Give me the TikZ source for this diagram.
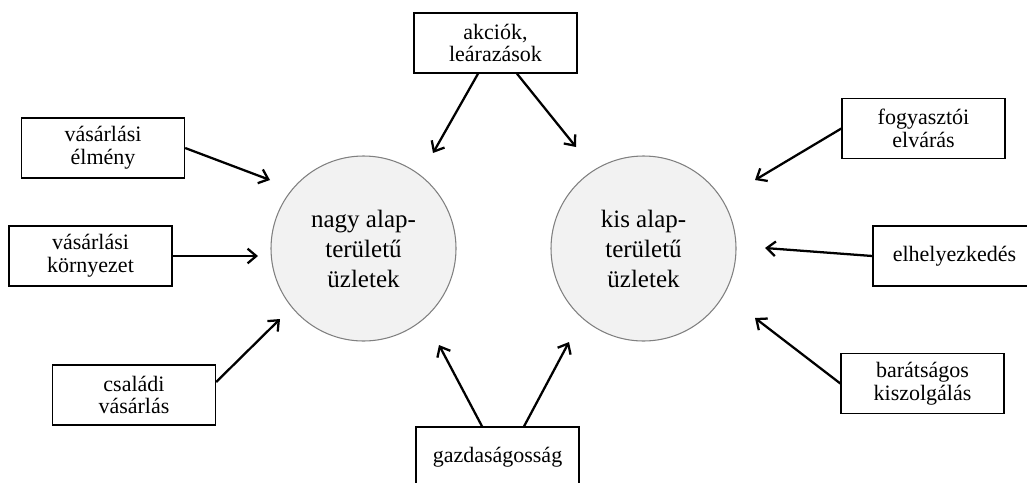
\documentclass[tikz,border=0pt]{standalone}
\usepackage{fontspec}
\setmainfont{Liberation Serif}
\usetikzlibrary{arrows.meta}
\begin{document}
\begin{tikzpicture}[x=0.75pt,y=-0.75pt,
  box/.style={draw=black,line width=1pt,minimum width=122.25pt,minimum height=45pt,inner sep=0pt,align=center,font=\fontsize{16.5}{17}\selectfont},
  store/.style={circle,draw=gray,fill=gray!10,line width=0.8pt,minimum size=138.75pt,inner sep=0pt,align=center,font=\fontsize{18.75}{22.5}\selectfont},
  arr/.style={line width=1.7pt,-{Straight Barb[length=6.5pt,width=11pt]}}]
\useasboundingbox (0,0) rectangle (1027,482);
% circles
\node[store] (nagy) at (363.5,248.5) {nagy alap-\\területű\\üzletek};
\node[store] (kis) at (643.5,248.5) {kis alap-\\területű\\üzletek};
% boxes
\node[box] (akc) at (495.5,43) {akciók,\\leárazások};
\node[box] (elm) at (103,148) {vásárlási\\élmény};
\node[box] (kor) at (90.5,256) {vásárlási\\környezet};
\node[box] (csal) at (134,395) {családi\\vásárlás};
\node[box] (gazd) at (497.5,457) {gazdaságosság};
\node[box] (fogy) at (923.5,128.5) {fogyasztói\\elvárás};
\node[box] (elh) at (954.5,256) {elhelyezkedés};
\node[box] (bar) at (922.5,383.5) {barátságos\\kiszolgálás};
% arrow tips
\coordinate (t1) at (433,153);
\coordinate (t2) at (576,147);
\coordinate (t3) at (270,180);
\coordinate (t4) at (258,256);
\coordinate (t5) at (280,319);
\coordinate (t6) at (439,345);
\coordinate (t7) at (569,342);
\coordinate (t8) at (755,180);
\coordinate (t9) at (765,248);
\coordinate (t10) at (755,318);
% arrows
\draw[arr] ([xshift=-13.1pt]akc.south) -- (t1);
\draw[arr] ([xshift=16.1pt]akc.south) -- (t2);
\draw[arr] (elm.east) -- (t3);
\draw[arr] (kor.east) -- (t4);
\draw[arr] ([yshift=9.75pt]csal.east) -- (t5);
\draw[arr] ([xshift=-11.6pt]gazd.north) -- (t6);
\draw[arr] ([xshift=19.9pt]gazd.north) -- (t7);
\draw[arr] (fogy.west) -- (t8);
\draw[arr] (elh.west) -- (t9);
\draw[arr] (bar.west) -- (t10);
\end{tikzpicture}
\end{document}
